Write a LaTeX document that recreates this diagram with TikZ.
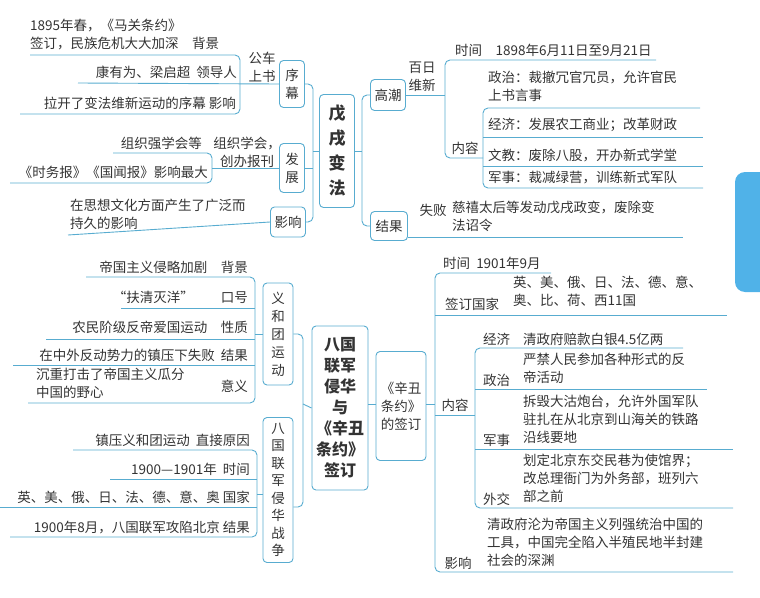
\documentclass[tikz,border=0pt]{standalone}
\usepackage{fontspec}
\setmainfont{Noto Sans CJK SC}
\begin{document}
\begin{tikzpicture}[x=1pt,y=-1pt,
  txt/.style={inner sep=0pt,text=black!80,font=\fontsize{13.5}{18}\selectfont,align=left},
  box/.style={draw=tline,line width=0.9pt,rounded corners=4pt,inner sep=0pt,fill=white},
  ln/.style={draw=tline,line width=0.9pt},
  br/.style={draw=tline,line width=0.9pt,rounded corners=5pt},
  title/.style={txt,font=\fontsize{16}{21}\selectfont\bfseries,align=center}]
\definecolor{tline}{RGB}{88,172,208}
\definecolor{ttab}{RGB}{80,178,232}
\useasboundingbox (0,0) rectangle (760,597);
\clip (0,0) rectangle (760,597);
\fill[ttab,rounded corners=10pt] (735,172) rectangle (775,292);
% ---- top: main box
\node[box,minimum width=35pt,minimum height=113pt] (wx) at (337,151) {};
\node[title,font=\fontsize{17}{25}\selectfont\bfseries] at (wx) {戊\\戌\\变\\法};
% left branches
\node[box,minimum width=25pt,minimum height=47pt] (xm) at (292,84) {};
\node[txt,align=center] at (xm) {序\\幕};
\node[box,minimum width=25pt,minimum height=49pt] (fz) at (292,168) {};
\node[txt,align=center] at (fz) {发\\展};
\node[box,minimum width=35pt,minimum height=30pt] (yx) at (288,222) {};
\node[txt] at (yx) {影响};
\coordinate (lb) at (313,151);
\draw[ln] (wx.west) -- (lb);
\draw[br] (xm.east) -| (lb) |- (yx.east);
\draw[ln] (fz.east) -- (fz.east -| lb);
% 序幕
\node[txt,align=center] (gc) at (262,67) {公车\\上书};
\draw[br] (30,55) -- (240,55) -- (240,114) -- (20,114);
\draw[ln] (xm.west) -- (78,83);
\node[txt,anchor=north west] at (30,19) {1895年春，《马关条约》\\签订，民族危机大大加深\quad 背景};
\node[txt,anchor=east] at (237,72) {康有为、梁启超\ \ 领导人};
\node[txt,anchor=east] at (236,103) {拉开了变法维新运动的序幕\ 影响};
% 发展
\node[txt,align=center] at (247,152) {组织学会，\\创办报刊};
\draw[ln] (fz.west) -- (212,168);
\draw[br] (113,153) -- (212,153) -- (212,183) -- (10,183);
\node[txt,anchor=east] at (202,143) {组织强学会等};
\node[txt,anchor=east] at (208,172) {《时务报》《国闻报》影响最大};
% 影响
\draw[ln] (yx.west) -- (68,235);
\node[txt,anchor=north west] at (70,199) {在思想文化方面产生了广泛而\\持久的影响};
% right branches
\node[box,minimum width=35pt,minimum height=31pt] (gc2) at (388,95) {};
\node[txt] at (gc2) {高潮};
\node[box,minimum width=37pt,minimum height=29pt] (jg) at (389,226) {};
\node[txt] at (jg) {结果};
\coordinate (rb) at (362,151);
\draw[ln] (wx.east) -- (rb);
\draw[br] (gc2.west) -| (rb) |- (jg.west);
% 高潮
\node[txt,align=center] at (422,77) {百日\\维新};
\draw[br] (656,60) -- (445,60) -- (445,158) -- (483,158);
\draw[ln] (gc2.east) -- (445,95);
\node[txt,anchor=west] at (455,50) {时间\quad 1898年6月11日至9月21日};
\node[txt] at (465,148) {内容};
\draw[br] (700,108) -- (483,108) -- (483,188) -- (703,188);
\draw[ln] (483,137) -- (703,137);
\draw[ln] (483,166) -- (703,166);
\node[txt,anchor=north west] at (488,71) {政治：裁撤冗官冗员，允许官民\\上书言事};
\node[txt,anchor=west] at (488,125) {经济：发展农工商业；改革财政};
\node[txt,anchor=west] at (488,155) {文教：废除八股，开办新式学堂};
\node[txt,anchor=west] at (488,178) {军事：裁减绿营，训练新式军队};
% 结果
\draw[ln] (jg.east |- 0,237) -- (683,237);
\node[txt] at (433,210) {失败};
\node[txt,anchor=north west] at (452,201) {慈禧太后等发动戊戌政变，废除变\\法诏令};
% ---- bottom: main box
\node[box,minimum width=56pt,minimum height=164pt] (bg) at (340,408) {};
\node[title] at (bg) {八国\\联军\\侵华\\与\\《辛丑\\条约》\\签订};
\node[box,minimum width=30pt,minimum height=102pt] (yht) at (278,334) {};
\node[txt,align=center] at (yht) {义\\和\\团\\运\\动};
\node[box,minimum width=30pt,minimum height=145pt] (bgl) at (278,490) {};
\node[txt,align=center,font=\fontsize{13.5}{17.5}\selectfont] at (bgl) {八\\国\\联\\军\\侵\\华\\战\\争};
\coordinate (lb2) at (303,404);
\draw[ln] (bg.west) -- (lb2);
\draw[br] (yht.east |- 0,334) -| (lb2) |- (bgl.east |- 0,507);
% 义和团运动
\draw[ln] (yht.west) -- (255,334);
\draw[br] (86,277) -- (255,277) -- (255,403) -- (28,403);
\draw[ln] (121,308) -- (255,308);
\draw[ln] (46,339) -- (255,339);
\draw[ln] (13,365) -- (255,365);
\node[txt,anchor=east] at (248,267) {帝国主义侵略加剧\quad 背景};
\node[txt,anchor=east] at (248,297) {“扶清灭洋”\qquad 口号};
\node[txt,anchor=east] at (248,327) {农民阶级反帝爱国运动\quad 性质};
\node[txt,anchor=east] at (248,355) {在中外反动势力的镇压下失败\ \ 结果};
\node[txt,anchor=east] at (248,386) {意义};
\node[txt,anchor=north west] at (36,368) {沉重打击了帝国主义瓜分\\中国的野心};
% 八国联军侵华战争
\draw[ln] (bgl.west |- 0,494) -- (257,494);
\draw[br] (73,450) -- (257,450) -- (257,537) -- (10,537);
\draw[ln] (110,479) -- (257,479);
\draw[ln] (0,507) -- (257,507);
\node[txt,anchor=east] at (250,440) {镇压义和团运动\ \ 直接原因};
\node[txt,anchor=east] at (250,469) {1900—1901年\ \ 时间};
\node[txt,anchor=east] at (250,497) {英、美、俄、日、法、德、意、奥\ 国家};
\node[txt,anchor=east] at (250,527) {1900年8月，八国联军攻陷北京\ 结果};
% 辛丑条约的签订
\node[box,minimum width=50pt,minimum height=109pt] (xc) at (401,406) {};
\node[txt,align=center] at (xc) {《辛丑\\条约》\\的签订};
\draw[ln] (bg.east |- 0,404) -- (xc.west |- 0,404);
\draw[ln] (xc.east |- 0,404) -- (435,404);
\draw[br] (551,273) -- (435,273) -- (435,572) -- (733,572);
\draw[ln] (435,315) -- (727,315);
\node[txt,anchor=west] at (443,263) {时间\ \ 1901年9月};
\node[txt] at (472,304) {签订国家};
\node[txt,anchor=north west] at (513,276) {英、美、俄、日、法、德、意、\\奥、比、荷、西11国};
\node[txt] at (458,563) {影响};
\node[txt,anchor=north west] at (487,518) {清政府沦为帝国主义列强统治中国的\\工具，中国完全陷入半殖民地半封建\\社会的深渊};
% 内容
\draw[ln] (435,415) -- (475,415);
\node[txt] at (455,405) {内容};
\draw[br] (683,348) -- (475,348) -- (475,508) -- (733,508);
\draw[ln] (475,389) -- (707,389);
\draw[ln] (475,449) -- (733,449);
\node[txt,anchor=west] at (483,339) {经济};
\node[txt,anchor=west] at (523,339) {清政府赔款白银4.5亿两};
\node[txt,anchor=west] at (483,380) {政治};
\node[txt,anchor=north west] at (523,353) {严禁人民参加各种形式的反\\帝活动};
\node[txt,anchor=west] at (483,440) {军事};
\node[txt,anchor=north west] at (523,395) {拆毁大沽炮台，允许外国军队\\驻扎在从北京到山海关的铁路\\沿线要地};
\node[txt,anchor=west] at (483,499) {外交};
\node[txt,anchor=north west] at (523,454) {划定北京东交民巷为使馆界；\\改总理衙门为外务部，班列六\\部之前};
\end{tikzpicture}
\end{document}
